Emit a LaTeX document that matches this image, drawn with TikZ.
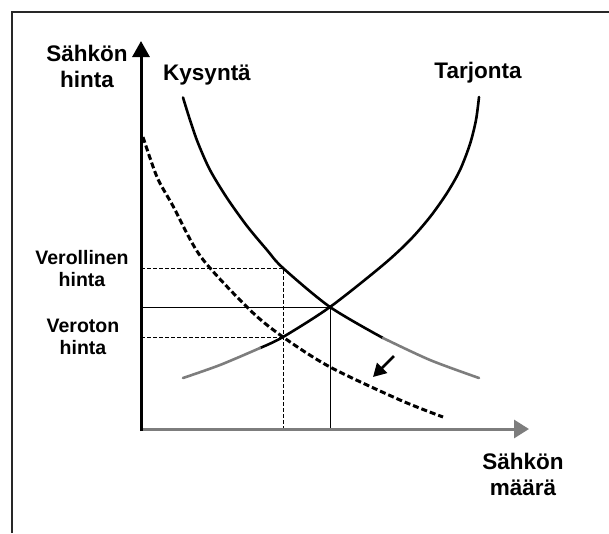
\documentclass[tikz,border=0pt]{standalone}
\usepackage{fontspec}
\usetikzlibrary{arrows.meta}
\newfontfamily\labfont{Liberation Sans}
\definecolor{curvegray}{RGB}{125,125,125}
\definecolor{framegray}{RGB}{40,40,40}
\tikzset{
  lab/.style={inner sep=0pt, align=center, font=\labfont\bfseries\fontsize{22.5}{26}\selectfont},
  smalllab/.style={inner sep=0pt, align=center, font=\labfont\bfseries\fontsize{19.5}{22}\selectfont},
  curve/.style={line width=2.6pt, line cap=round},
  graycurve/.style={curve, draw=curvegray},
  shifted/.style={line width=3pt, dash pattern=on 6pt off 3pt},
  guide/.style={line width=1pt, dash pattern=on 4pt off 2pt},
  guidesolid/.style={line width=1pt},
  frameline/.style={line width=2pt, draw=framegray},
}
\begin{document}
\begin{tikzpicture}[x=1pt,y=-1pt]
\useasboundingbox (0,0) rectangle (609,533);
% frame (top and left edges)
\coordinate (FL) at (12,533);
\coordinate (FC) at (12,12);
\coordinate (FR) at (609,12);
\draw[frameline] (FL) -- (FC) -- (FR);

% key coordinates
\coordinate (O) at (141,429);
\coordinate (Ob) at (141,431);
\coordinate (YT) at (141,41);
\coordinate (XT) at (529,429);
\coordinate (D1) at (283,268);
\coordinate (E) at (330,307);
\coordinate (S1) at (283,337);
\coordinate (Vy) at (141,268);
\coordinate (Ey) at (141,307);
\coordinate (Ty) at (141,337);
\coordinate (Vx) at (283,429);
\coordinate (Ex) at (330,429);
\coordinate (A1) at (394,356);
\coordinate (A2) at (373,377);

% guide lines
\draw[guide] (Vy) -- (D1) -- (Vx);
\draw[guide] (Ty) -- (S1);
\draw[guidesolid] (Ey) -- (E) -- (Ex);

% axes
\draw[line width=3pt, draw=curvegray, -{Triangle[length=15pt,width=18pt]}] (O) -- (XT);
\draw[line width=3pt, -{Triangle[length=16pt,width=17pt]}] (Ob) -- (YT);

% demand curve
\draw[curve] plot[smooth] coordinates {(183,97.5) (190,120) (198,143) (210,170) (227,198) (247,226) (267,250) (283,268) (330,307) (383,338)};
\draw[graycurve] plot[smooth] coordinates {(383,338) (430,360) (479,378)};

% supply curve
\draw[curve] plot[smooth] coordinates {(479,97) (476,120) (470,144) (460,170) (447,193) (430,217) (410,240) (383,265) (330,307) (283,337) (260,348)};
\draw[graycurve] plot[smooth] coordinates {(260,348) (220,365) (183,378)};

% shifted (taxed) demand curve
\draw[shifted] plot[smooth] coordinates {(143,137) (157,177) (173,206) (201,257) (250,310) (283,337) (330,367) (400,400) (443,417)};

% shift arrow
\draw[line width=2.8pt, -{Triangle[length=13pt,width=14pt]}] (A1) -- (A2);

% labels
\node[lab] (yl) at (87,66) {Sähkön\\hinta};
\node[lab] (xl) at (523,474.5) {Sähkön\\määrä};
\node[lab] (kl) at (207,75) {Kysyntä};
\node[lab] (tl) at (478,73) {Tarjonta};
\node[smalllab] (vl) at (82,269) {Verollinen\\hinta};
\node[smalllab] (vt) at (83,337) {Veroton\\hinta};
\end{tikzpicture}
\end{document}
